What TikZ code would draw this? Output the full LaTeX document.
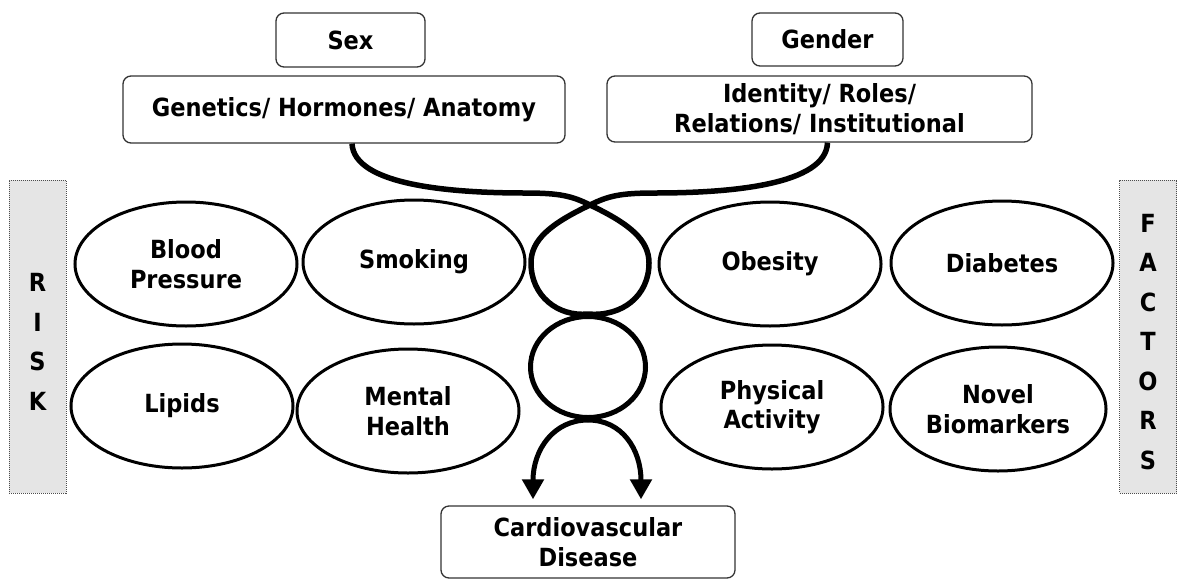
\documentclass[tikz,border=0pt]{standalone}
\usepackage{fontspec}
\setmainfont{DejaVu Sans Condensed}
\usetikzlibrary{shapes.geometric,arrows.meta}

\begin{document}
\begin{tikzpicture}[x=1pt,y=-1pt,
  every node/.style={font=\fontsize{25}{29.5}\selectfont\bfseries, align=center, inner sep=0pt},
  box/.style={draw=black!80, line width=1.3pt, rounded corners=8pt, fill=white},
  factor/.style={draw, ellipse, line width=3pt, minimum width=222pt, minimum height=124pt},
  sidebar/.style={draw=black!70, densely dotted, line width=1pt, fill=black!10,
    minimum width=57pt, minimum height=313pt},
  sideletters/.style={font=\fontsize{25}{39.5}\selectfont\bfseries},
  strand/.style={line width=5.5pt},
  pointer/.style={line width=5pt, -{Triangle[width=21pt,length=20pt]}},
]
\useasboundingbox (0,0) rectangle (1182,581);

% top boxes
\node[box, minimum width=149pt, minimum height=54pt] (sex) at (350.5,40) {Sex};
\node[box, minimum width=442pt, minimum height=67pt] (gha) at (344,109.5) {Genetics/ Hormones/ Anatomy};
\node[box, minimum width=151pt, minimum height=53pt] (gender) at (827.5,39.5) {Gender};
\node[box, minimum width=425pt, minimum height=66pt] (iden) at (819.5,109) {Identity/ Roles/\\Relations/ Institutional};

% side labels
\node[sidebar] (risk) at (37.5,336.5) {};
\node[sideletters] (risktext) at (37.5,342) {R\\I\\S\\K};
\node[sidebar] (factors) at (1148,336.5) {};
\node[sideletters] (factorstext) at (1148,342) {F\\A\\C\\T\\O\\R\\S};

% risk factors
\node[factor] (bp) at (186,264) {Blood\\Pressure};
\node[factor] (smoke) at (414,262) {Smoking};
\node[factor] (obes) at (770,264) {Obesity};
\node[factor] (diab) at (1002,263) {Diabetes};
\node[factor] (lip) at (182,406) {Lipids};
\node[factor] (mental) at (408,411) {Mental\\Health};
\node[factor] (phys) at (772,407) {Physical\\Activity};
\node[factor, minimum width=216pt] (novel) at (998,409) {Novel\\Biomarkers};

% outcome
\node[box, minimum width=294pt, minimum height=72pt] (cvd) at (588,542) {Cardiovascular\\Disease};

% middle ring of the chain
\node[draw, ellipse, line width=5pt, minimum width=115pt, minimum height=101pt] (ring) at (588,367) {};

% two strands crossing into the top loop
\draw[strand] ([xshift=8pt]gha.south) .. controls (354,185) and (450,193) .. (525,193)
  .. controls (560,193) and (572,196) .. (590,205)
  .. controls (630,224) and (649,240) .. (649,263)
  .. controls (649,296) and (622,317) .. (ring.north);
\draw[strand] ([xshift=8pt]iden.south) .. controls (826,185) and (730,193) .. (655,193)
  .. controls (620,193) and (608,196) .. (590,205)
  .. controls (550,224) and (531,240) .. (531,263)
  .. controls (531,296) and (558,317) .. (ring.north);

% arrows into the outcome
\draw[pointer] (ring.south) .. controls +(-34,0) and +(0,-50) .. ([xshift=-55pt,yshift=6pt]cvd.north);
\draw[pointer] (ring.south) .. controls +(34,0) and +(0,-50) .. ([xshift=53pt,yshift=6pt]cvd.north);
\end{tikzpicture}
\end{document}
